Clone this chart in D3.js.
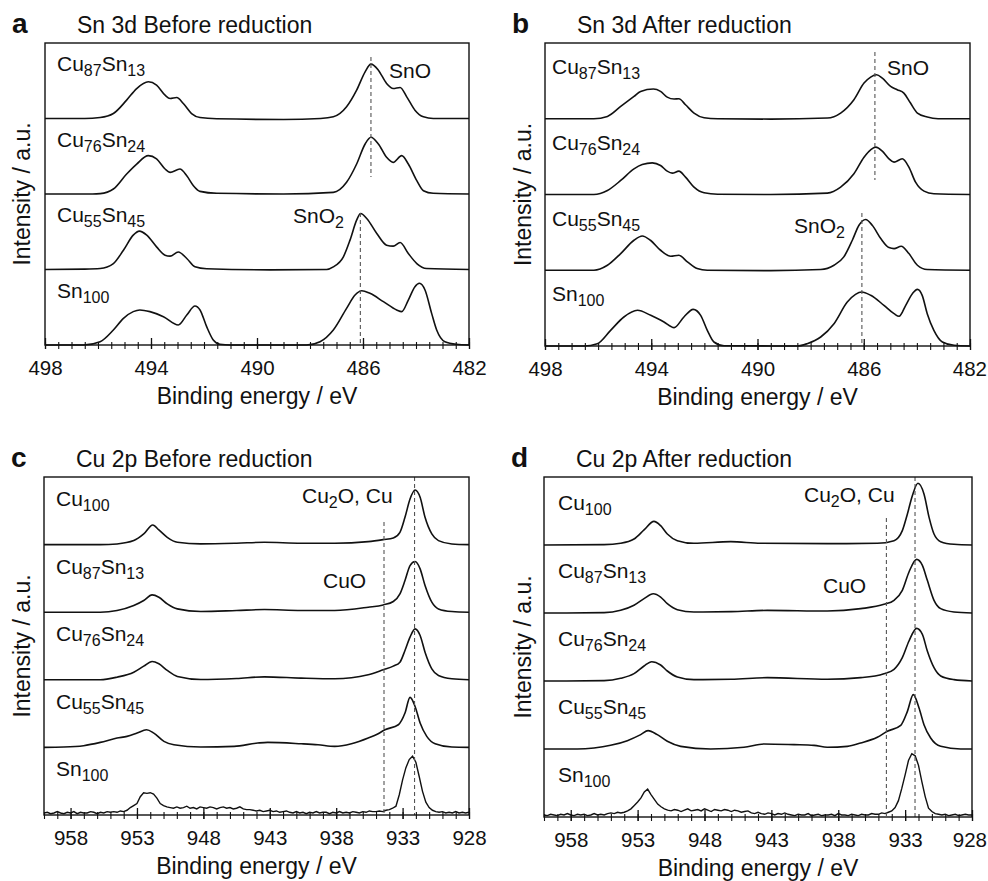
<!DOCTYPE html>
<html lang="en"><head><meta charset="UTF-8">
<title>XPS Sn 3d and Cu 2p spectra</title>
<script src="https://d3js.org/d3.v7.min.js"></script>
<style>
  body { margin: 0; background: #fff; }
  text { font-family: "Liberation Sans", Arial, Helvetica, sans-serif; fill: #111; }
</style>
</head>
<body>
<script>
// ---------- data: [binding energy (eV), intensity (% of row height)] ----------

// Sn 3d, before reduction
var snBefore_Cu87Sn13 = [[498,0],[496.5,0],[495.92,1.3],[495.42,6.6],[494.92,24.3],[494.54,39.7],[494.10,48.6],[493.79,44.2],[493.47,30.9],[493.28,26.5],[493.03,27.8],[492.78,19.9],[492.47,6.6],[492.15,1.3],[491.52,-0.4],[489,-1.3],[487.6,0],[487.12,2.2],[486.62,15.5],[486.24,37.5],[485.92,61.8],[485.70,72.0],[485.42,64.0],[485.11,46.4],[484.86,39.7],[484.60,41.1],[484.35,28.7],[484.04,11.0],[483.72,2.2],[483.35,0],[482,0]];
var snBefore_Cu76Sn24 = [[498,0],[496.2,0],[495.92,0.5],[495.42,6.6],[494.92,26.5],[494.54,39.7],[494.10,50.8],[493.79,46.4],[493.47,33.1],[493.28,28.7],[492.91,33.1],[492.65,24.3],[492.40,11.0],[492.15,3.5],[491.52,0.9],[489,0],[487.12,2.2],[486.62,15.5],[486.24,39.7],[485.92,66.2],[485.70,75.1],[485.42,66.2],[485.11,48.6],[484.86,41.9],[484.54,50.8],[484.29,39.7],[483.97,17.7],[483.72,4.4],[483.35,0.9],[482,0]];
var snBefore_Cu55Sn45 = [[498,0],[496.5,0.5],[495.92,1.3],[495.42,7.9],[495.04,25.6],[494.67,45.5],[494.44,50.8],[494.16,45.5],[493.79,30.0],[493.47,19.0],[493.28,17.7],[492.97,23.2],[492.65,14.6],[492.34,3.5],[491.90,0.9],[489.5,-0.5],[487.37,0],[487.12,3.5],[486.74,16.8],[486.49,38.9],[486.24,65.3],[486.09,74.2],[485.86,67.6],[485.48,47.7],[485.11,32.2],[484.86,30.9],[484.60,35.8],[484.29,21.2],[483.97,7.9],[483.60,1.3],[482,0]];
var snBefore_Sn100 = [[498,0],[496.55,0],[495.92,4.4],[495.42,19.9],[495.04,35.3],[494.67,44.2],[494.42,46.4],[494.04,44.2],[493.53,37.5],[492.97,26.5],[492.65,39.7],[492.34,51.7],[492.15,46.4],[491.90,24.3],[491.65,6.6],[491.40,0.9],[491,0],[488.13,0],[487.62,4.4],[487.12,19.9],[486.62,48.6],[486.30,66.2],[486.05,71.9],[485.74,68.4],[485.23,57.4],[484.73,46.4],[484.54,44.2],[484.29,59.6],[484.04,77.3],[483.87,81.7],[483.66,72.9],[483.41,41.9],[483.22,19.9],[482.91,4.4],[482.47,0.9],[482,0]];

// Sn 3d, after reduction
var snAfter_Cu87Sn13 = [[498,0],[496.16,0],[495.65,3.1],[495.15,16.3],[494.65,29.5],[494.40,36.1],[493.92,39.2],[493.65,36.1],[493.40,28.6],[493.14,26.0],[492.96,26.4],[492.71,18.5],[492.39,7.5],[492.01,1.3],[491.5,0],[489.5,-0.5],[487.37,0.9],[486.87,7.5],[486.37,25.1],[485.99,47.1],[485.74,55.0],[485.52,58.1],[485.30,53.7],[484.99,42.7],[484.74,38.3],[484.49,33.9],[484.24,20.7],[483.98,7.5],[483.61,2.2],[483.2,0],[482,0]];
var snAfter_Cu76Sn24 = [[498,0],[496.16,0],[495.65,5.3],[495.15,18.5],[494.65,33.9],[494.34,39.6],[493.96,41.8],[493.65,38.3],[493.40,30.8],[493.21,28.2],[492.96,30.8],[492.71,22.9],[492.39,9.7],[492.01,2.2],[491.5,0.4],[489.5,0],[487.37,1.8],[486.87,9.7],[486.37,27.3],[485.99,49.3],[485.74,59.0],[485.55,62.5],[485.30,57.2],[485.05,47.1],[484.86,42.7],[484.55,47.1],[484.30,36.1],[484.05,16.3],[483.73,4.4],[483.36,0.9],[482,0]];
var snAfter_Cu55Sn45 = [[498,0],[496.16,0],[495.65,6.6],[495.15,22.0],[494.65,39.6],[494.34,45.3],[494.03,39.6],[493.65,26.4],[493.27,18.5],[492.96,19.8],[492.64,11.0],[492.27,2.2],[491.89,0],[489.5,-0.5],[487.62,0.9],[487.12,6.6],[486.75,17.6],[486.43,39.6],[486.18,59.4],[485.93,66.9],[485.68,59.4],[485.36,41.8],[485.05,29.9],[484.86,28.6],[484.59,31.7],[484.30,22.0],[483.98,6.6],[483.61,0.9],[482,0]];
var snAfter_Sn100 = [[498,0],[496.53,0],[496.03,3.1],[495.53,20.7],[495.03,38.3],[494.52,47.1],[494.02,40.5],[493.52,31.7],[493.14,24.2],[492.77,38.3],[492.42,48.4],[492.14,40.5],[491.89,20.7],[491.64,5.3],[491.26,0.4],[488.5,0],[488.13,3.1],[487.62,11.9],[487.12,29.5],[486.62,58.1],[486.31,68.2],[486.08,71.3],[485.74,66.9],[485.24,53.7],[484.86,42.7],[484.67,39.2],[484.42,53.7],[484.17,69.1],[483.98,74.8],[483.80,66.9],[483.61,42.7],[483.36,20.7],[483.04,5.3],[482.60,0.9],[482,0]];

// Cu 2p, before reduction
var cuBefore_Cu100 = [[960,0],[955.76,0],[954.50,1.0],[953.24,5.9],[952.49,15.8],[951.81,29.1],[951.35,21.7],[950.72,10.8],[949.96,3.4],[948.20,1.0],[945.5,2],[943.41,3.4],[940.64,2.0],[938.11,2.0],[935.59,4.4],[934.46,7.4],[933.70,9.9],[933.20,18.2],[932.82,40.4],[932.44,67.5],[932.06,80.8],[931.68,70.0],[931.31,40.4],[930.80,15.8],[930.30,5.9],[929.29,1.0],[928,0]];
var cuBefore_Cu87Sn13 = [[960,0],[955.76,0],[954.50,2.5],[953.24,9.9],[952.49,17.3],[951.86,25.6],[951.35,22.2],[950.72,12.3],[949.96,4.9],[948.20,1.0],[945.5,2.5],[943.41,3.9],[940.64,2.5],[938.11,2.5],[935.59,7.4],[934.46,10.8],[933.70,15.8],[933.20,27.1],[932.82,46.8],[932.44,69.0],[932.06,74.9],[931.68,64.1],[931.31,39.4],[930.80,14.8],[930.30,4.9],[929.29,1.0],[928,0]];
var cuBefore_Cu76Sn24 = [[960,0],[955.76,0],[954.50,3.9],[953.24,11.3],[952.49,20.2],[951.86,27.1],[951.35,23.7],[950.72,13.8],[949.96,4.9],[948.20,0.5],[945.5,2],[943.41,4.4],[940.64,2.5],[938.11,1.5],[935.59,7.4],[934.46,14.8],[933.70,20.2],[933.20,26.1],[932.82,43.4],[932.44,63.1],[932.06,75.4],[931.68,65.6],[931.31,40.9],[930.80,16.3],[930.30,6.4],[929.29,1.5],[928,0]];
var cuBefore_Cu55Sn45 = [[960,0],[958.5,0.5],[957.02,2.5],[955.76,7.4],[954.50,13.8],[953.75,16.3],[952.99,21.2],[952.28,26.1],[951.73,21.2],[950.97,8.9],[950.22,3.9],[948.20,0.5],[945.68,1.5],[943.91,6.4],[943.16,7.4],[940.64,5.4],[939.37,3.9],[938.11,1.5],[936.85,5.4],[935.59,13.8],[934.84,20.2],[934.33,26.1],[933.32,33.5],[932.82,50.8],[932.44,74.0],[932.06,60.6],[931.68,36.0],[931.18,16.3],[930.55,5.4],[929.29,0.5],[928,0]];
// noisy Sn100 scan, one value every 0.25 eV from 960 eV down to 928 eV
var cuBefore_Sn100 = [3,4,2,3,5,3,2,4,3,5,2,4,3,3,5,4,2,4,3,5,
  4,5,4,6,5,7,11,14,17,27,33,32,33,31,25,17,14,12,
  11,10,12,10,11,13,10,11,9,12,11,10,12,11,9,11,12,10,11,9,10,12,9,8,
  8,7,6,7,5,6,7,5,6,4,5,6,
  4,3,5,3,4,2,4,3,5,3,4,4,2,4,3,5,3,4,3,5,4,3,5,4,6,5,
  5,6,5,7,8,10,13,30,52,70,82,87,78,57,35,19,11,7,5,4,
  5,3,4,3,5,3,4,3,4];

// Cu 2p, after reduction
var cuAfter_Cu100 = [[960,0],[955.51,0.5],[954.27,2.5],[953.27,8.8],[952.52,22.1],[951.78,34.8],[951.28,28.4],[950.78,16.2],[950.03,6.4],[948.79,2.5],[946.04,4.9],[943.80,2.5],[938.82,2.0],[935.08,2.5],[933.83,6.4],[933.21,21.1],[932.83,45.6],[932.46,72.5],[932.04,90.7],[931.59,75.0],[931.21,40.7],[930.84,16.2],[930.34,4.9],[929.35,1.0],[928,0]];
var cuAfter_Cu87Sn13 = [[960,0],[955.5,0.5],[954.27,3.9],[953.27,11.3],[952.52,21.1],[951.83,28.4],[951.28,23.5],[950.78,13.7],[950.03,4.9],[948.79,1.5],[946,2],[943.30,3.9],[938.82,2.9],[936.32,6.4],[934.58,12.7],[933.83,18.6],[933.21,33.3],[932.71,60.3],[932.14,78.9],[931.71,70.1],[931.34,48.0],[930.84,18.6],[930.34,6.4],[929.35,1.5],[928,0]];
var cuAfter_Cu76Sn24 = [[960,0],[955.5,0.5],[954.27,3.9],[953.27,10.8],[952.52,22.1],[951.95,28.4],[951.28,23.5],[950.78,14.7],[950.03,5.9],[948.79,2.0],[946,2.5],[943.30,4.9],[938.82,2.5],[936.32,4.9],[934.58,10.8],[933.83,17.2],[933.21,34.3],[932.71,58.8],[932.14,77.4],[931.71,68.6],[931.34,44.1],[930.84,19.6],[930.34,7.4],[929.35,2.0],[928,0]];
var cuAfter_Cu55Sn45 = [[960,0],[957.51,0],[956.26,1.5],[955.02,5.4],[953.77,12.3],[952.77,21.1],[952.22,27.0],[951.53,21.1],[950.78,11.3],[949.78,3.9],[947.54,0],[945.05,2.5],[943.55,7.4],[941.31,6.4],[939.81,5.4],[938.82,2.5],[937.32,3.9],[936.32,8.8],[935.08,17.2],[934.33,26.0],[933.33,34.8],[932.83,55.4],[932.39,79.9],[931.96,60.3],[931.59,35.8],[931.09,16.2],[930.34,3.9],[928.85,0],[928,0]];
var cuAfter_Sn100 = [3,2,4,3,2,4,3,5,3,2,4,3,4,2,3,5,3,4,3,5,
  6,5,7,6,7,9,12,17,22,28,37,41,33,26,19,15,12,10,
  9,11,10,8,10,12,9,10,11,9,12,10,8,11,10,9,11,10,8,10,9,7,8,9,
  6,5,7,5,4,6,5,3,5,4,6,4,
  3,2,4,3,3,5,2,3,4,2,3,3,4,2,5,3,3,2,4,3,2,4,3,3,5,4,
  4,6,5,7,9,14,24,42,62,83,93,90,76,52,30,13,8,5,4,3,
  4,2,3,4,2,3,4,3,3];
var scanStart = 960, scanStep = 0.25;

// row labels: alternating normal / subscript parts
var snRows = [["Cu","87","Sn","13"],["Cu","76","Sn","24"],["Cu","55","Sn","45"],["Sn","100"]];
var cuRows = [["Cu","100"],["Cu","87","Sn","13"],["Cu","76","Sn","24"],["Cu","55","Sn","45"],["Sn","100"]];

// tick labels
var snTicks = [498,494,490,486,482];
var cuTicks = [958,953,948,943,938,933,928];

// reference energies of the dashed lines
var snBeforeRefs = [485.7, 486.1];   // SnO, SnO2
var snAfterRefs  = [485.58, 486.07];
var cuBeforeRefs = [932.1, 934.4];   // Cu2O/Cu, CuO
var cuAfterRefs  = [932.26, 934.4];

function scan(vals) {
  return vals.map(function(v, i) { return [scanStart - scanStep * i, v]; });
}

// ---------- layout ----------
var W = 988, H = 881;
var svg = d3.select("body").append("svg").attr("width", W).attr("height", H);

var panels = [
  { letter: "a", title: "Sn 3d Before reduction", left: 45, right: 469, top: 43, bottom: 345,
    domain: [498, 482], ticks: snTicks, minor: 0.5, rows: snRows, labX: 57, labDy: 28, yLabX: 30,
    series: [snBefore_Cu87Sn13, snBefore_Cu76Sn24, snBefore_Cu55Sn45, snBefore_Sn100],
    refs: [{ e: snBeforeRefs[0], y0: 57, y1: 177 }, { e: snBeforeRefs[1], y0: 213, y1: 345 }],
    notes: [{ parts: ["SnO"], x: 389, y: 78 }, { parts: ["SnO", "2"], x: 293, y: 223 }] },
  { letter: "b", title: "Sn 3d After reduction", left: 545, right: 970, top: 43, bottom: 346,
    domain: [498, 482], ticks: snTicks, minor: 0.5, rows: snRows, labX: 552, labDy: 31, yLabX: 531,
    series: [snAfter_Cu87Sn13, snAfter_Cu76Sn24, snAfter_Cu55Sn45, snAfter_Sn100],
    refs: [{ e: snAfterRefs[0], y0: 52, y1: 180 }, { e: snAfterRefs[1], y0: 213, y1: 346 }],
    notes: [{ parts: ["SnO"], x: 887, y: 75 }, { parts: ["SnO", "2"], x: 794, y: 233 }] },
  { letter: "c", title: "Cu 2p Before reduction", left: 44, right: 469, top: 477, bottom: 815,
    domain: [960, 928], ticks: cuTicks, minor: 1, rows: cuRows, labX: 56, labDy: 29, yLabX: 30,
    series: [cuBefore_Cu100, cuBefore_Cu87Sn13, cuBefore_Cu76Sn24, cuBefore_Cu55Sn45, scan(cuBefore_Sn100)],
    noisy: 4,
    refs: [{ e: cuBeforeRefs[0], y0: 477, y1: 815 }, { e: cuBeforeRefs[1], y0: 522, y1: 815 }],
    notes: [{ parts: ["Cu", "2", "O, Cu"], x: 302, y: 503 }, { parts: ["CuO"], x: 323, y: 588 }] },
  { letter: "d", title: "Cu 2p After reduction", left: 544, right: 972, top: 477, bottom: 817,
    domain: [960, 928], ticks: cuTicks, minor: 1, rows: cuRows, labX: 558, labDy: 33, yLabX: 531,
    series: [cuAfter_Cu100, cuAfter_Cu87Sn13, cuAfter_Cu76Sn24, cuAfter_Cu55Sn45, scan(cuAfter_Sn100)],
    noisy: 4,
    refs: [{ e: cuAfterRefs[0], y0: 477, y1: 817 }, { e: cuAfterRefs[1], y0: 518, y1: 817 }],
    notes: [{ parts: ["Cu", "2", "O, Cu"], x: 804, y: 502 }, { parts: ["CuO"], x: 823, y: 593 }] }
];

function subText(sel, parts, big, small) {
  parts.forEach(function(t, i) {
    sel.append("tspan").text(t)
      .style("font-size", (i % 2 ? small : big) + "px")
      .attr("dy", i % 2 ? 5 : (i ? -5 : 0));
  });
}

panels.forEach(function(p) {
  var g = svg.append("g");
  var x = d3.scaleLinear().domain(p.domain).range([p.left, p.right]);
  var n = p.series.length;
  var rowH = (p.bottom - p.top) / n;

  // spectra, one per row
  p.series.forEach(function(data, r) {
    var y = d3.scaleLinear().domain([0, 100])
      .range([p.top + (r + 1) * rowH, p.top + r * rowH]);
    var line = d3.line()
      .x(function(d) { return x(d[0]); })
      .y(function(d) { return y(d[1]); })
      .curve(p.noisy === r ? d3.curveLinear : d3.curveMonotoneX);
    g.append("path").datum(data)
      .attr("d", line)
      .attr("fill", "none")
      .attr("stroke", "#111")
      .attr("stroke-width", p.noisy === r ? 1.4 : 1.6);

    var lab = g.append("text")
      .attr("x", p.labX)
      .attr("y", p.top + r * rowH + p.labDy);
    subText(lab, p.rows[r], 21, 16);
  });

  // dashed reference lines
  p.refs.forEach(function(ref) {
    g.append("line")
      .attr("x1", x(ref.e)).attr("x2", x(ref.e))
      .attr("y1", ref.y0).attr("y2", ref.y1)
      .attr("stroke", "#555").attr("stroke-width", 1.1)
      .attr("stroke-dasharray", "4,3");
  });

  p.notes.forEach(function(nt) {
    var t = g.append("text").attr("x", nt.x).attr("y", nt.y);
    subText(t, nt.parts, 21, 16);
  });

  // frame
  g.append("rect")
    .attr("x", p.left).attr("y", p.top)
    .attr("width", p.right - p.left).attr("height", p.bottom - p.top)
    .attr("fill", "none").attr("stroke", "#111").attr("stroke-width", 1.4);

  // minor ticks
  var lo = Math.min(p.domain[0], p.domain[1]), hi = Math.max(p.domain[0], p.domain[1]);
  var minorAx = g.append("g").attr("transform", "translate(0," + p.bottom + ")")
    .call(d3.axisBottom(x).tickValues(d3.range(lo, hi + 0.001, p.minor)).tickFormat("").tickSizeOuter(0));
  minorAx.select(".domain").remove();
  minorAx.selectAll(".tick line").attr("y1", 4).attr("y2", -3).attr("stroke", "#111").attr("stroke-width", 1.1);

  // major ticks + labels
  var ax = g.append("g").attr("transform", "translate(0," + p.bottom + ")")
    .call(d3.axisBottom(x).tickValues(p.ticks).tickFormat(d3.format("d")).tickSizeOuter(0));
  ax.select(".domain").remove();
  ax.selectAll(".tick line").attr("y1", 4).attr("y2", -7).attr("stroke", "#111").attr("stroke-width", 1.3);
  ax.selectAll(".tick text").attr("y", 15).style("font-size", "20.5px")
    .each(function() {
      // keep the last label inside the picture
      var b = this.getBBox(), tx = this.parentNode.transform.baseVal.consolidate().matrix.e;
      var over = tx + b.x + b.width - (W - 1);
      if (over > 0) d3.select(this).attr("dx", -over);
    });

  // axis titles
  g.append("text")
    .attr("x", (p.left + p.right) / 2).attr("y", p.bottom + 59)
    .attr("text-anchor", "middle").style("font-size", "23px")
    .text("Binding energy / eV");
  g.append("text")
    .attr("transform", "translate(" + p.yLabX + "," + ((p.top + p.bottom) / 2) + ") rotate(-90)")
    .attr("text-anchor", "middle").style("font-size", "23px")
    .text("Intensity / a.u.");

  // panel letter and title
  g.append("text")
    .attr("x", p.left - 33).attr("y", p.top - 10)
    .style("font-size", "28px").style("font-weight", "bold")
    .text(p.letter);
  g.append("text")
    .attr("x", p.left + 32).attr("y", p.top - 10)
    .style("font-size", "23px")
    .text(p.title);
});
</script>
</body></html>
